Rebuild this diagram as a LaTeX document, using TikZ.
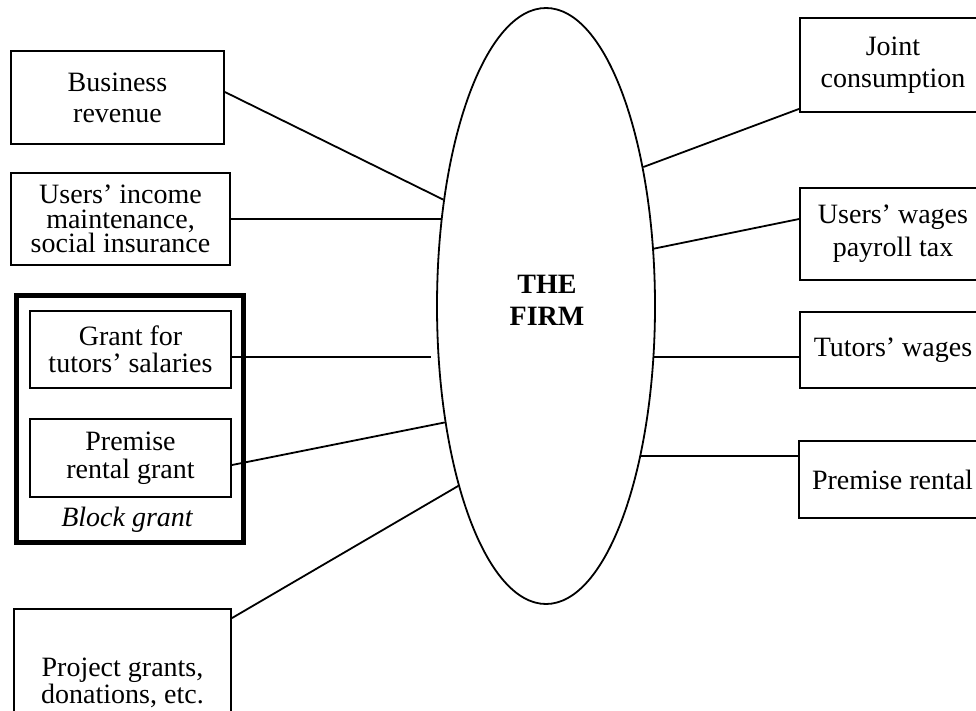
\documentclass[tikz,border=0pt]{standalone}
\usepackage{fontspec}
\setmainfont{Liberation Serif}
\usetikzlibrary{shapes.geometric}
\begin{document}
\begin{tikzpicture}[x=1pt,y=-1pt,
  box/.style={draw, line width=1.8pt, rectangle, align=center, inner sep=0pt},
  fs/.style={font=\fontsize{28}{#1}\selectfont},
  conn/.style={line width=1.8pt},
]
\useasboundingbox (0,0) rectangle (976,711);
\clip (0,0) rectangle (976,711);

% central ellipse
\node[ellipse, draw, line width=1.8pt, minimum width=218pt, minimum height=596pt, inner sep=0pt] (firm) at (546,306) {};
\node[font=\fontsize{28}{32}\selectfont\bfseries, align=center] (firmtxt) at (547,300) {THE\\FIRM};

% left boxes
\node[box, fs=31, minimum width=213pt, minimum height=93pt] (br) at (117.5,97.5) {Business\\revenue};
\node[box, fs=24.5, minimum width=219pt, minimum height=92pt] (ui) at (120.5,219) {Users’ income\\maintenance,\\social insurance};
\node[draw, line width=4.5pt, minimum width=227pt, minimum height=247pt, inner sep=0pt] (block) at (130,419) {};
\node[box, fs=27, minimum width=201pt, minimum height=77pt] (gt) at (130.5,349.5) {Grant for\\tutors’ salaries};
\node[box, fs=28, minimum width=201pt, minimum height=78pt] (prg) at (130.5,458) {Premise\\rental grant};
\node[font=\fontsize{28}{31}\selectfont\itshape] (bg) at (127,520) {Block grant};
\node[box, fs=25, minimum width=217pt, minimum height=148pt] (pg) at (122.5,683) {Project grants,\\donations, etc.};

% right boxes
\node[box, fs=32, minimum width=186pt, minimum height=94pt] (jc) at (893,65) {Joint\\consumption};
\node[box, fs=33, minimum width=186pt, minimum height=92pt] (uw) at (893,234) {Users’ wages\\payroll tax};
\node[box, fs=31, minimum width=186pt, minimum height=76pt] (tw) at (893,350) {Tutors’ wages};
\node[box, fs=31, minimum width=187pt, minimum height=77pt] (pr) at (892.5,479.5) {Premise rental};

% connectors
\coordinate (gtend) at (431,357);
\draw[conn] ([yshift=5.5pt]br.east) -- (firm.134.8);
\draw[conn] (ui.east) -- (ui.east -| firm.139.8);
\draw[conn] ([yshift=-7.5pt]gt.east) -- (gtend);
\draw[conn] ([yshift=-7pt]prg.east) -- (firm.229.1);
\draw[conn] ([yshift=-10pt]pg.north east) -- (firm.244.2);
\draw[conn] ([yshift=4pt]jc.south west) -- (firm.55);
\draw[conn] ([yshift=15pt]uw.west) -- (firm.28.5);
\draw[conn] ([yshift=-7pt]tw.west) coordinate (twl) -- (twl -| firm.334.6);
\draw[conn] ([yshift=23.5pt]pr.west) coordinate (prl) -- (prl -| firm.302.1);
\end{tikzpicture}
\end{document}
